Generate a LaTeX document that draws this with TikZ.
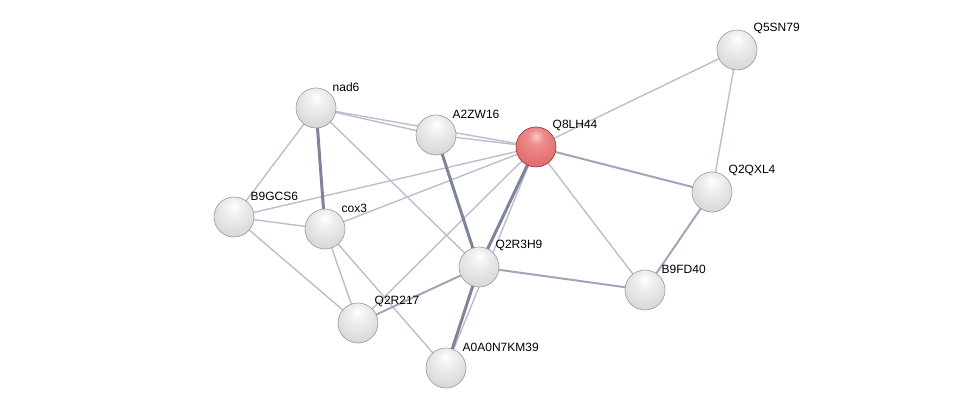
\documentclass[tikz,border=0pt]{standalone}
\usepackage{fontspec}
\setmainfont{Liberation Sans}
\usetikzlibrary{backgrounds}

\pgfdeclareradialshading{greyball}{\pgfpoint{0bp}{14bp}}{color(0bp)=(white);
  color(10bp)=(white!94!black); color(28bp)=(white!86!black); color(44bp)=(white!78!black);
  color(56bp)=(white!62!black); color(64bp)=(white!45!black)}
\pgfdeclareradialshading{redball}{\pgfpoint{0bp}{14bp}}{color(0bp)=(rgb,255:red,250;green,200;blue,200);
  color(10bp)=(rgb,255:red,236;green,140;blue,140); color(28bp)=(rgb,255:red,226;green,112;blue,112);
  color(44bp)=(rgb,255:red,214;green,96;blue,96); color(56bp)=(rgb,255:red,180;green,64;blue,64);
  color(64bp)=(rgb,255:red,140;green,40;blue,40)}

\begin{document}
\begin{tikzpicture}[x=1pt,y=-1pt,
  protein/.style={circle,minimum size=40pt,inner sep=0pt,shading=greyball,draw=gray!80,line width=0.6pt,
    label={[lbl]45:#1}},
  query/.style={circle,minimum size=40pt,inner sep=0pt,shading=redball,draw={rgb,255:red,150;green,50;blue,50},line width=0.6pt,
    label={[lbl]45:#1}},
  lbl/.style={inner sep=0pt,label distance=3pt,font=\fontsize{12}{14}\selectfont},
  weak/.style={draw={rgb,255:red,186;green,190;blue,206},line width=1.4pt},
  medium/.style={draw={rgb,255:red,160;green,165;blue,186},line width=2pt},
  strong/.style={draw={rgb,255:red,126;green,132;blue,156},line width=3pt}]
 \useasboundingbox (0,0) rectangle (975,414);

 \node[query=Q8LH44] (q8lh44) at (536,147) {};
 \node[protein=Q5SN79] (q5sn79) at (737,50) {};
 \node[protein=Q2QXL4] (q2qxl4) at (712,192) {};
 \node[protein=B9FD40] (b9fd40) at (645,290) {};
 \node[protein=Q2R3H9] (q2r3h9) at (479,267) {};
 \node[protein=A0A0N7KM39] (a0a0n7km39) at (446,368) {};
 \node[protein=Q2R217] (q2r217) at (358,323) {};
 \node[protein=cox3] (cox3) at (325,229) {};
 \node[protein=B9GCS6] (b9gcs6) at (234,217) {};
 \node[protein=nad6] (nad6) at (316,108) {};
 \node[protein=A2ZW16] (a2zw16) at (436,135) {};

 \begin{scope}[on background layer]
  % weak links
  \draw[weak] (nad6.center) -- (a2zw16.center);
  \draw[weak] (nad6.center) -- (q8lh44.center);
  \draw[weak] (a2zw16.center) -- (q8lh44.center);
  \draw[weak] (nad6.center) -- (b9gcs6.center);
  \draw[weak] (nad6.center) -- (q2r3h9.center);
  \draw[weak] (b9gcs6.center) -- (q8lh44.center);
  \draw[weak] (b9gcs6.center) -- (cox3.center);
  \draw[weak] (b9gcs6.center) -- (q2r217.center);
  \draw[weak] (cox3.center) -- (q8lh44.center);
  \draw[weak] (cox3.center) -- (q2r217.center);
  \draw[weak] (cox3.center) -- (a0a0n7km39.center);
  \draw[weak] (q2r217.center) -- (q8lh44.center);
  \draw[weak] (q8lh44.center) -- (a0a0n7km39.center);
  \draw[weak] (q8lh44.center) -- (b9fd40.center);
  \draw[weak] (q8lh44.center) -- (q5sn79.center);
  \draw[weak] (q5sn79.center) -- (q2qxl4.center);
  % medium links
  \draw[medium] (q2r3h9.center) -- (q2r217.center);
  \draw[medium] (q2r3h9.center) -- (b9fd40.center);
  \draw[medium] (q8lh44.center) -- (q2qxl4.center);
  \draw[medium] (q2qxl4.center) -- (b9fd40.center);
  % strong links
  \draw[strong] (nad6.center) -- (cox3.center);
  \draw[strong] (a2zw16.center) -- (q2r3h9.center);
  \draw[strong] (q8lh44.center) -- (q2r3h9.center);
  \draw[strong] (q2r3h9.center) -- (a0a0n7km39.center);
 \end{scope}
\end{tikzpicture}
\end{document}
